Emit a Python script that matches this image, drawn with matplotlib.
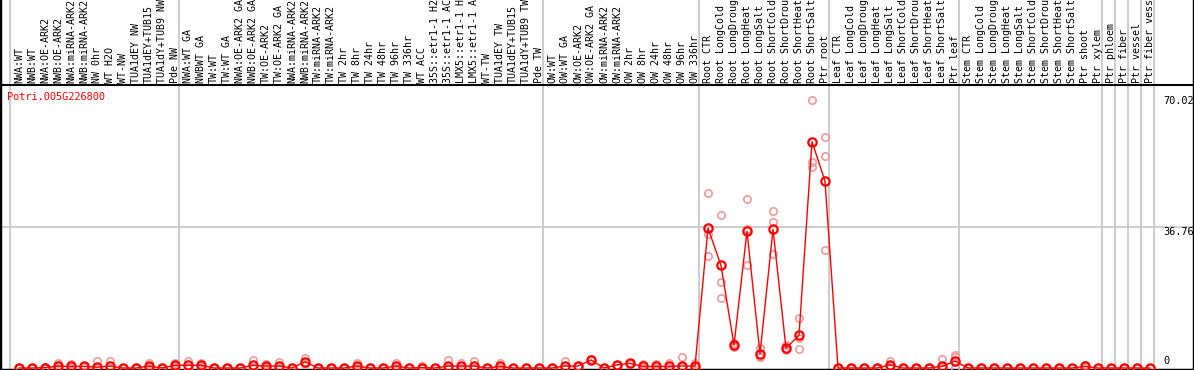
import matplotlib
matplotlib.use("Agg")
import matplotlib.pyplot as plt

labels = [
    "NWA:WT", "NWB:WT", "NWA:OE-ARK2", "NWB:OE-ARK2", "NWA:miRNA-ARK2", "NWB:miRNA-ARK2",
    "NW 0hr", "WT H2O", "WT-NW", "TUA1dEY NW", "TUA1dEY+TUB15", "TUA1dY+TUB9 NW", "Pde NW",
    "NWA:WT GA", "NWBWT GA", "TW:WT", "TW:WT GA", "NWA:OE-ARK2 GA", "NWB:OE-ARK2 GA",
    "TW:OE-ARK2", "TW:OE-ARK2 GA", "NWA:miRNA-ARK2", "NWB:miRNA-ARK2", "TW:miRNA-ARK2",
    "TW:miRNA-ARK2", "TW 2hr", "TW 8hr", "TW 24hr", "TW 48hr", "TW 96hr", "TW 336hr",
    "WT ACC", "35S::etr1-1 H2", "35S::etr1-1 AC", "LMX5::etr1-1 H", "LMX5::etr1-1 A",
    "WT-TW", "TUA1dEY TW", "TUA1dEY+TUB15", "TUA1dY+TUB9 TW", "Pde TW",
    "OW:WT", "OW:WT GA", "OW:OE-ARK2", "OW:OE-ARK2 GA", "OW:miRNA-ARK2", "OW:miRNA-ARK2",
    "OW 2hr", "OW 8hr", "OW 24hr", "OW 48hr", "OW 96hr", "OW 336hr",
    "Root CTR", "Root LongCold", "Root LongDroug", "Root LongHeat", "Root LongSalt",
    "Root ShortCold", "Root ShortDrou", "Root ShortHeat", "Root ShortSalt", "Ptr root",
    "Leaf CTR", "Leaf LongCold", "Leaf LongDroug", "Leaf LongHeat", "Leaf LongSalt",
    "Leaf ShortCold", "Leaf ShortDrou", "Leaf ShortHeat", "Leaf ShortSalt", "Ptr leaf",
    "Stem CTR", "Stem LongCold", "Stem LongDroug", "Stem LongHeat", "Stem LongSalt",
    "Stem ShortCold", "Stem ShortDrou", "Stem ShortHeat", "Stem ShortSalt", "Ptr shoot",
    "Ptr xylem", "Ptr phloem", "Ptr fiber", "Ptr vessel", "Ptr fiber vess",
]
group_starts = [0, 13, 41, 53, 63, 73, 84, 85, 86, 87, 88]

mean = [
    0, 0, 0.1, 0.5, 0.4, 0.4, 0.2, 0.5, 0, 0, 0.5, 0, 0.7,
    0.7, 0.7, 0, 0, 0, 0.7, 0.5, 0.5, 0, 1.6, 0, 0, 0, 0.5, 0, 0, 0.5,
    0, 0.1, 0, 0.5, 0.5, 0.5, 0, 0.4, 0, 0, 0, 0,
    0.5, 0.5, 2.1, 0, 0.8, 1.2, 0.4, 0.4, 0.4, 0.5, 0.5,
    36.5, 26.8, 6.0, 35.7, 3.7, 36.2, 5.2, 8.5, 59.1, 48.8,
    0, 0, 0, 0, 0.8, 0, 0, 0, 0.4, 1.8,
    0, 0, 0, 0, 0, 0, 0, 0, 0, 0.4, 0,
    0, 0, 0, 0,
]
rep1 = [
    0, 0, 0.2, 1.4, 1.05, 0.6, 1.7, 1.7, 0, 0, 1.2, 0, 1.4,
    1.8, 1.4, 0, 0, 0, 2.1, 1.05, 1.6, 0, 2.5, 0, 0, 0, 1.2, 0, 0, 1.4,
    0, 0.5, 0, 2.1, 1.4, 1.7, 0, 1.2, 0, 0, 0, 0,
    1.7, 0.6, 2.3, 0, 0.9, 1.3, 1.05, 1.05, 1.2, 3.0, 1.2,
    45.6, 39.9, 6.5, 44.1, 5.2, 40.9, 6.0, 13.0, 70.0, 60.3,
    0, 0, 0, 0, 1.7, 0, 0, 0, 2.3, 3.4,
    0, 0, 0, 0, 0, 0, 0, 0, 0, 0.8, 0,
    0, 0, 0, 0,
]
rep2 = [
    0, 0, 0.1, 0.1, 0.1, 0.3, 0, 0, 0, 0, 0.2, 0, 0.4,
    0.2, 0.4, 0, 0, 0, 0, 0.3, 0, 0, 1.3, 0, 0, 0, 0.2, 0, 0, 0.1,
    0, 0, 0, 0, 0.1, 0, 0, 0, 0, 0, 0, 0,
    0, 0.5, 2.0, 0, 0.8, 1.2, 0.1, 0.1, 0, 0.3, 0.2,
    34.9, 22.4, 5.6, 36.2, 3.0, 38.0, 4.7, 7.8, 53.7, 55.3,
    0, 0, 0, 0, 0.5, 0, 0, 0, 0, 2.9,
    0, 0, 0, 0, 0, 0, 0, 0, 0, 0.4, 0,
    0, 0, 0, 0,
]
rep3 = [
    0, 0, 0, 0, 0, 0.3, 0, 0, 0, 0, 0, 0, 0.3,
    0, 0.3, 0, 0, 0, 0, 0.1, 0, 0, 1.0, 0, 0, 0, 0.1, 0, 0, 0,
    0, 0, 0, 0, 0, 0, 0, 0, 0, 0, 0, 0,
    0, 0.4, 2.0, 0, 0.7, 1.1, 0, 0, 0, 0.2, 0.2,
    29.2, 18.3, 6.0, 26.8, 2.9, 29.7, 4.9, 4.9, 52.4, 30.9,
    0, 0, 0, 0, 0.2, 0, 0, 0, 0, 0,
    0, 0, 0, 0, 0, 0, 0, 0, 0, 0, 0,
    0, 0, 0, 0,
]
gene = "Potri.005G226800"
ticks = [0, 36.76, 70.02]

W, H = 1194, 370
x0, dx = 19, 13          # pixel position of first column and step
y0, sy = 368, 3.83       # pixel row of value 0 and pixels per unit
head = 85                # pixel row of the line under the labels

fig = plt.figure(figsize=(W / 100, H / 100), dpi=100)
ax = fig.add_axes([0, 0, 1, 1])
ax.set_xlim(-x0 / dx, (W - x0) / dx)
ax.set_ylim(-(H - y0) / sy, y0 / sy)
ax.set_xticks([])
ax.set_yticks([])
ax.spines["top"].set_visible(False)
for s in ["left", "right", "bottom"]:
    ax.spines[s].set_linewidth(2.5)

xs = list(range(len(labels)))
top_v = (y0 - head) / sy

for g in group_starts:
    ax.axvline(g - 9 / dx, color="#c4c4c4", lw=1.2, zorder=1)
ax.axhline(ticks[1], color="#c4c4c4", lw=1.2, zorder=1)
ax.axhline(top_v, color="black", lw=1.5, zorder=2)

for r in (rep1, rep2, rep3):
    ax.plot(xs, r, ls="none", marker="o", ms=5.3, mfc="none", mec="#ee9a9a", mew=1.2, zorder=3)
ax.plot(xs, mean, color="red", lw=1, zorder=4)
ax.plot(xs, mean, ls="none", marker="o", ms=6, mfc="none", mec="red", mew=1.6, zorder=5)

mono = "DejaVu Sans Mono"
for i, lab in enumerate(labels):
    ax.text(i, (y0 - head + 2) / sy, lab, rotation=90, ha="center", va="bottom",
            family=mono, fontsize=7.2, clip_on=False)

ax.text(7 / W, 1 - 97 / H, gene, transform=ax.transAxes, color="red",
        family=mono, fontsize=7.4, ha="left", va="center")

tx = (1163 - x0) / dx
ax.text(tx, ticks[2] + 1.0, "70.02", family=mono, fontsize=7.4, ha="left", va="top")
ax.text(tx, ticks[1], "36.76", family=mono, fontsize=7.4, ha="left", va="top")
ax.text(tx, ticks[0] + 0.5, "0", family=mono, fontsize=7.4, ha="left", va="bottom")

fig.savefig("out.png", dpi=100)
